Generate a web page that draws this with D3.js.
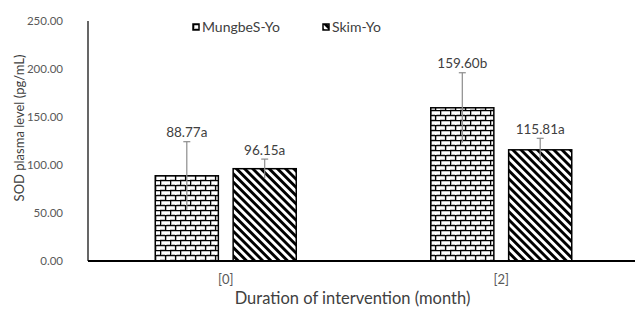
<!DOCTYPE html>
<html>
<head>
<meta charset="utf-8">
<script src="https://cdn.jsdelivr.net/npm/d3@7"></script>
<style>
  body { margin: 0; background: #fff; }
  text { font-family: Lato, "Open Sans", sans-serif; }
</style>
</head>
<body>
<svg id="chart"></svg>
<script>
// chart data
var categories = ["[0]", "[2]"];
var seriesNames = ["MungbeS-Yo", "Skim-Yo"];
var mungbeanValues = [88.77, 159.60];
var skimValues = [96.15, 115.81];
var mungbeanErrors = [35.5, 36.5];
var skimErrors = [10, 12];
var mungbeanLabels = ["88.77a", "159.60b"];
var skimLabels = ["96.15a", "115.81a"];
var yTicks = [0, 50, 100, 150, 200, 250];

var width = 635,
    height = 309;

var svg = d3.select("#chart")
    .attr("width", width)
    .attr("height", height);

var defs = svg.append("defs");

// horizontal brick pattern
var brick = defs.append("pattern")
    .attr("id", "brick")
    .attr("patternUnits", "userSpaceOnUse")
    .attr("width", 10)
    .attr("height", 10);
brick.append("rect").attr("width", 10).attr("height", 10).attr("fill", "#fff");
brick.append("path")
    .attr("d", "M0,0.6H10M0,5.6H10M0.6,0.6V5.6M5.6,5.6V10.6")
    .attr("stroke", "#000")
    .attr("stroke-width", 1.4)
    .attr("fill", "none");
brick.append("path")
    .attr("d", "M1.5,4.6H5M6.5,4.6H10M0,9.6H5")
    .attr("stroke", "#aaa")
    .attr("stroke-width", 0.8)
    .attr("fill", "none");

// wide downward diagonal
var diag = defs.append("pattern")
    .attr("id", "diag")
    .attr("patternUnits", "userSpaceOnUse")
    .attr("width", 5.8)
    .attr("height", 10)
    .attr("patternTransform", "rotate(-45)");
diag.append("rect").attr("width", 5.8).attr("height", 10).attr("fill", "#fff");
diag.append("rect").attr("width", 2.9).attr("height", 10).attr("fill", "#000");

var fills = ["url(#brick)", "url(#diag)"];

var margin = {left: 88, top: 21, right: 639, bottom: 261};

var y = d3.scaleLinear()
    .domain([0, 250])
    .range([margin.bottom, margin.top]);

var x0 = d3.scaleBand()
    .domain(categories)
    .range([margin.left, margin.right])
    .paddingInner(0)
    .paddingOuter(0);

var groupWidth = 141;
var x1 = d3.scaleBand()
    .domain(seriesNames)
    .range([(x0.bandwidth() - groupWidth) / 2, (x0.bandwidth() + groupWidth) / 2])
    .paddingInner(0.19)
    .paddingOuter(0);

// tick labels
svg.append("g")
  .selectAll("text")
    .data(yTicks)
  .enter().append("text")
    .attr("x", 63)
    .attr("y", function(d) { return y(d); })
    .attr("dy", "0.35em")
    .attr("text-anchor", "end")
    .style("font-size", "11.5px")
    .style("fill", "#595959")
    .text(function(d) { return d3.format(".2f")(d); });

// rows of data for bars
var rows = [];
categories.forEach(function(c, i) {
    rows.push({cat: c, s: 0, v: mungbeanValues[i], e: mungbeanErrors[i], label: mungbeanLabels[i]});
    rows.push({cat: c, s: 1, v: skimValues[i], e: skimErrors[i], label: skimLabels[i]});
});

var bars = svg.append("g")
  .selectAll("rect")
    .data(rows)
  .enter().append("rect")
    .attr("x", function(d) { return x0(d.cat) + x1(seriesNames[d.s]); })
    .attr("y", function(d) { return y(d.v); })
    .attr("width", x1.bandwidth())
    .attr("height", function(d) { return y(0) - y(d.v); })
    .attr("fill", function(d) { return fills[d.s]; })
    .attr("stroke", "#000")
    .attr("stroke-width", 1.5);

// error bars
var err = svg.append("g")
  .selectAll("g")
    .data(rows)
  .enter().append("g")
    .attr("stroke", "#8c8c8c")
    .attr("stroke-width", 1.2);

err.append("line")
    .attr("x1", function(d) { return x0(d.cat) + x1(seriesNames[d.s]) + x1.bandwidth() / 2; })
    .attr("x2", function(d) { return x0(d.cat) + x1(seriesNames[d.s]) + x1.bandwidth() / 2; })
    .attr("y1", function(d) { return y(d.v + d.e); })
    .attr("y2", function(d) { return y(d.v - d.e); });

err.append("line")
    .attr("x1", function(d) { return x0(d.cat) + x1(seriesNames[d.s]) + x1.bandwidth() / 2 - 3.5; })
    .attr("x2", function(d) { return x0(d.cat) + x1(seriesNames[d.s]) + x1.bandwidth() / 2 + 3.5; })
    .attr("y1", function(d) { return y(d.v + d.e); })
    .attr("y2", function(d) { return y(d.v + d.e); });

// value labels
svg.append("g")
  .selectAll("text")
    .data(rows)
  .enter().append("text")
    .attr("x", function(d) { return x0(d.cat) + x1(seriesNames[d.s]) + x1.bandwidth() / 2; })
    .attr("y", function(d) { return y(d.v + d.e) - 9; })
    .attr("dy", "0.35em")
    .attr("text-anchor", "middle")
    .style("font-size", "13.5px")
    .style("fill", "#404040")
    .text(function(d) { return d.label; });

// axes lines
svg.append("line")
    .attr("x1", margin.left).attr("x2", margin.left)
    .attr("y1", y(250)).attr("y2", y(0))
    .attr("stroke", "#000")
    .attr("stroke-width", 1.2);

svg.append("line")
    .attr("x1", margin.left).attr("x2", margin.right)
    .attr("y1", y(0)).attr("y2", y(0))
    .attr("stroke", "#000")
    .attr("stroke-width", 1.8);

// category labels
svg.append("g")
  .selectAll("text")
    .data(categories)
  .enter().append("text")
    .attr("x", function(d) { return x0(d) + x0.bandwidth() / 2; })
    .attr("y", 279)
    .attr("dy", "0.35em")
    .attr("text-anchor", "middle")
    .style("font-size", "13px")
    .style("fill", "#595959")
    .text(function(d) { return d; });

// axis titles
svg.append("text")
    .attr("x", (margin.left + margin.right) / 2 - 11)
    .attr("y", 298)
    .attr("dy", "0.35em")
    .attr("text-anchor", "middle")
    .style("font-size", "16.5px")
    .style("fill", "#404040")
    .text("Duration of intervention (month)");

svg.append("text")
    .attr("transform", "translate(19,128) rotate(-90)")
    .attr("dy", "0.35em")
    .attr("text-anchor", "middle")
    .style("font-size", "13px")
    .style("fill", "#404040")
    .text("SOD plasma level (pg/mL)");

// legend
var legendX = [193, 323];
var legend = svg.append("g")
  .selectAll("g")
    .data(seriesNames)
  .enter().append("g")
    .attr("transform", function(d, i) { return "translate(" + legendX[i] + ",24)"; });

legend.append("rect")
    .attr("width", 6)
    .attr("height", 6)
    .attr("fill", function(d, i) { return fills[i]; })
    .attr("stroke", "#000")
    .attr("stroke-width", 1.5);

legend.append("text")
    .attr("x", 9)
    .attr("y", 3)
    .attr("dy", "0.35em")
    .style("font-size", "14px")
    .style("fill", "#404040")
    .text(function(d) { return d; });
</script>
</body>
</html>
